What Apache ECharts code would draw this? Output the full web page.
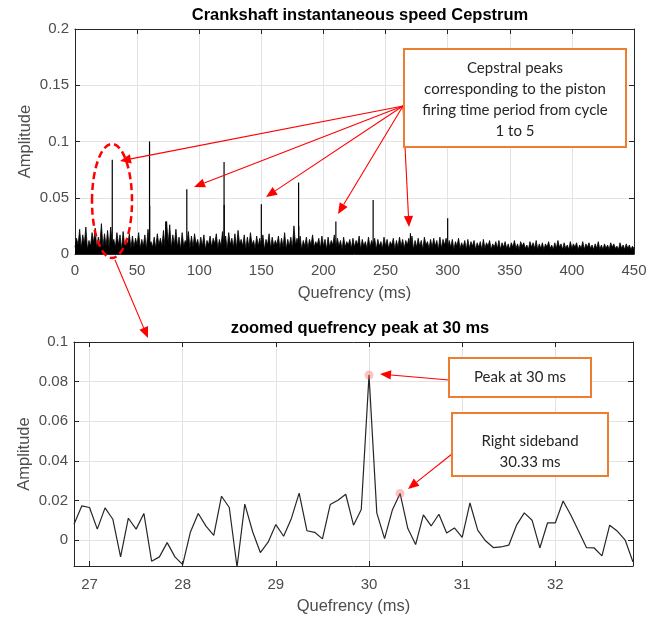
<!DOCTYPE html>
<html>
<head>
<meta charset="utf-8">
<script src="https://cdn.jsdelivr.net/npm/echarts@6/dist/echarts.min.js"></script>
<style>
html,body{margin:0;padding:0;background:#fff;}
#c{width:659px;height:617px;}
</style>
</head>
<body>
<div id="c"></div>
<script>
// ---------------- DATA ----------------
// Top chart: cepstrum noise, read as alternating floor / spike values (amplitude x 1e-3)
const noiseStepMs = 2.5;           // floor values at 0, 2.5, 5 ... ; spikes half a step later
const noiseFloor = [
  6,8,5,9,4,7,10,5,8,6,
  7,5,9,6,8,4,7,9,5,6,
  8,5,7,4,9,6,5,8,7,6,
  9,5,8,6,4,7,9,5,6,8,
  5,7,4,8,6,9,5,7,6,4,
  8,6,5,9,7,4,6,8,5,7,
  6,4,8,5,7,8,5,6,4,7,
  5,8,6,4,7,5,8,6,8,5,
  7,4,6,8,5,7,4,6,8,5,
  6,8,4,7,5,6,8,4,7,5,
  7,5,8,4,6,7,5,8,6,4,
  6,7,4,8,5,6,7,4,5,8,
  5,6,4,7,5,6,4,5,7,4,
  6,4,5,7,4,6,5,4,6,5,
  4,6,5,4,7,5,4,6,5,4,
  5,4,6,5,4,5,6,4,5,4,
  5,6,4,5,4,6,5,4,5,4,
  4,5,4,6,5,4,5,4,5,4,
  5
];
const noiseSpike = [
  14,22,17,24,12,19,23,15,27,18,
  21,24,13,19,17,20,12,18,16,14,
  19,13,17,22,11,15,18,14,21,29,
  26,17,22,15,19,12,20,16,18,13,
  15,17,12,16,14,18,13,20,16,19,
  14,18,21,13,17,15,19,12,16,14,
  17,13,18,15,12,16,14,19,13,15,
  25,14,16,12,15,13,17,11,14,16,
  13,15,12,17,14,12,15,11,13,14,
  12,16,13,11,15,12,14,13,11,15,
  13,11,14,12,15,13,12,14,16,12,
  14,12,15,11,13,14,12,15,13,14,
  12,13,11,14,10,12,13,11,12,10,
  11,13,10,12,9,11,12,10,11,9,
  10,12,9,11,10,8,11,10,12,9,
  10,9,11,8,10,12,9,10,8,11,
  9,10,8,11,9,10,8,9,11,8,
  9,8,10,9,7,10,8,9,8,7
];
// Cepstral peaks (quefrency ms, amplitude)
const peakQuefrency = [30, 60, 60.1, 73, 90, 120, 120.1, 150, 180, 180.1, 210, 240, 270, 300];
const peakAmplitude = [0.0837, 0.100, 0.043, 0.029, 0.0576, 0.0817, 0.0436, 0.0443, 0.0635, 0.025, 0.0288, 0.048, 0.0185, 0.0318];

// Bottom chart: zoom around 30 ms, sampled every 1/12 ms
const zoomStartMs = 26.8333;
const zoomSamplesPerMs = 12;
const zoomAmplitude = [
  0.0081, 0.0173, 0.0165, 0.0056, 0.0163, 0.0106, -0.0084, 0.0111, 0.0056, 0.0135,
  -0.0106, -0.0084, -0.0012, -0.0084, -0.0123, 0.0042, 0.0135, 0.0071, 0.0024, 0.0222,
  0.0165, -0.0135, 0.0182, 0.0044, -0.0062, -0.0010, 0.0079, 0.0020, 0.0110, 0.0238,
  0.0048, 0.0040, 0.0007, 0.0180, 0.0202, 0.0232, 0.0076, 0.0155, 0.0833, 0.0138,
  0.0008, 0.0152, 0.0236, 0.0059, -0.0022, 0.0128, 0.0072, 0.0131, 0.0037, 0.0062,
  0.0014, 0.0188, 0.0051, -0.0003, -0.0037, -0.0034, -0.0025, 0.0076, 0.0138, 0.0101,
  -0.0039, 0.0088, 0.0088, 0.0198, 0.0126, 0.0045, -0.0037, -0.0039, -0.0079, 0.0076,
  0.0045, 0.0000, -0.0110
];
const highlightQuefrency = [30, 30.333];
const highlightAmplitude = [0.0833, 0.0236];

const topXTicks = [0, 450, 50];
const topYTicks = [0, 0.2, 0.05];

// ---------------- BUILD ----------------
const noiseData = [];
for (let i = 0; i < noiseFloor.length; i++) {
  noiseData.push([i * noiseStepMs, noiseFloor[i] * 1e-3]);
  if (i < noiseSpike.length) noiseData.push([i * noiseStepMs + noiseStepMs / 2, noiseSpike[i] * 1e-3]);
}
const peakData = peakQuefrency.map((q, i) => [q, peakAmplitude[i]]);
const zoomData = zoomAmplitude.map((v, i) => [zoomStartMs + i / zoomSamplesPerMs, v]);
const zoomEnd = zoomStartMs + (zoomAmplitude.length - 1) / zoomSamplesPerMs;
const hiData = highlightQuefrency.map((q, i) => [q, highlightAmplitude[i]]);

const FONT = 'Liberation Sans';
const TXT = '#4d4d4d';
const AX = '#262626';
const GRID = '#e3e3e3';
const RED = '#ff0000';
const ORANGE = '#ed7d31';

function mainX(idx, extra) {
  return Object.assign({
    type: 'value', gridIndex: idx,
    axisLine: { show: true, onZero: false, lineStyle: { color: AX, width: 1 } },
    axisTick: { show: true, inside: true, length: 5, lineStyle: { color: AX } },
    axisLabel: { color: TXT, fontFamily: FONT, fontSize: 15, margin: 9 },
    splitLine: { show: true, lineStyle: { color: GRID, width: 1 } },
    name: 'Quefrency (ms)', nameLocation: 'middle', nameGap: 31,
    nameTextStyle: { color: TXT, fontFamily: FONT, fontSize: 16.5 }
  }, extra);
}
function mainY(idx, extra) {
  return Object.assign({
    type: 'value', gridIndex: idx,
    axisLine: { show: true, onZero: false, lineStyle: { color: AX, width: 1 } },
    axisTick: { show: true, inside: true, length: 5, lineStyle: { color: AX } },
    axisLabel: { color: TXT, fontFamily: FONT, fontSize: 15, margin: 6 },
    splitLine: { show: true, lineStyle: { color: GRID, width: 1 } },
    name: 'Amplitude', nameLocation: 'middle', nameRotate: 90, nameGap: 41, nameMoveOverlap: false,
    nameTextStyle: { color: TXT, fontFamily: FONT, fontSize: 16.5 }
  }, extra);
}
function boxX(idx, min, max, extra) {
  return Object.assign({
    type: 'value', gridIndex: idx, position: 'top', min: min, max: max,
    axisLine: { show: true, onZero: false, lineStyle: { color: AX, width: 1 } },
    axisTick: { show: true, inside: true, length: 5, lineStyle: { color: AX } },
    axisLabel: { show: false }, splitLine: { show: false }
  }, extra);
}
function boxY(idx, min, max, extra) {
  return Object.assign({
    type: 'value', gridIndex: idx, position: 'right', min: min, max: max,
    axisLine: { show: true, onZero: false, lineStyle: { color: AX, width: 1 } },
    axisTick: { show: true, inside: true, length: 5, lineStyle: { color: AX } },
    axisLabel: { show: false }, splitLine: { show: false }
  }, extra);
}
const intOnly = v => (Math.abs(v - Math.round(v)) < 1e-6 ? String(Math.round(v)) : '');
const yZoomFmt = v => {
  if (v < -1e-9) return '';
  return String(parseFloat(v.toFixed(3)));
};

// arrow helper for annotation graphics
function arrow(x1, y1, x2, y2, head) {
  head = head || 11;
  const a = Math.atan2(y2 - y1, x2 - x1);
  const w = head * 0.42;
  const bx = x2 - head * Math.cos(a), by = y2 - head * Math.sin(a);
  return [
    { type: 'line', shape: { x1: x1, y1: y1, x2: bx, y2: by }, style: { stroke: RED, lineWidth: 1.1 }, z: 100 },
    { type: 'polygon', shape: { points: [[x2, y2], [bx + w * Math.sin(a), by - w * Math.cos(a)], [bx - w * Math.sin(a), by + w * Math.cos(a)]] }, style: { fill: RED }, z: 100 }
  ];
}
function box(x, y, w, h, lines, cy, lh) {
  const els = [{ type: 'rect', shape: { x: x, y: y, width: w, height: h }, style: { fill: '#fff', stroke: ORANGE, lineWidth: 2 }, z: 110 }];
  lines.forEach((t, i) => els.push({
    type: 'text', x: x + w / 2, y: cy + i * lh, z: 111,
    style: { text: t, fill: '#262626', font: '15px Lato', align: 'center', verticalAlign: 'middle' }
  }));
  return els;
}

let graphics = [];
graphics.push({ type: 'ellipse', shape: { cx: 112, cy: 201, rx: 20, ry: 57 }, style: { fill: 'none', stroke: RED, lineWidth: 2.5, lineDash: [7, 4] }, z: 100 });
[[120, 161], [194, 187], [266, 197], [338, 214], [409, 227]].forEach(p => { graphics = graphics.concat(arrow(403, 106, p[0], p[1])); });
graphics = graphics.concat(arrow(115, 260, 148, 338));
graphics = graphics.concat(arrow(449, 380, 380, 374));
graphics = graphics.concat(arrow(452, 454, 408, 489));
graphics = graphics.concat(box(404, 49, 222, 98, ['Cepstral peaks', 'corresponding to the piston', 'firing time period from cycle', '1 to 5'], 68, 21));
graphics = graphics.concat(box(449, 358, 142, 39, ['Peak at 30 ms'], 377, 21));
graphics = graphics.concat(box(452, 413, 156, 63, ['Right sideband', '30.33 ms'], 441, 21));

const chart = echarts.init(document.getElementById('c'), null, { renderer: 'canvas' });
chart.setOption({
  animation: false,
  backgroundColor: '#fff',
  title: [
    { text: 'Crankshaft instantaneous speed Cepstrum', left: 355, top: 2, textAlign: 'center',
      textStyle: { fontFamily: FONT, fontWeight: 'bold', fontSize: 16.5, color: '#000' } },
    { text: 'zoomed quefrency peak at 30 ms', left: 355, top: 315, textAlign: 'center',
      textStyle: { fontFamily: FONT, fontWeight: 'bold', fontSize: 16.5, color: '#000' } }
  ],
  grid: [
    { left: 75, right: 25, top: 29, height: 225 },
    { left: 74, right: 26, top: 342, height: 224 }
  ],
  xAxis: [
    mainX(0, { min: topXTicks[0], max: topXTicks[1], interval: topXTicks[2] }),
    mainX(1, { min: zoomStartMs, max: zoomEnd, splitNumber: 6, nameGap: 32, axisLabel: { color: TXT, fontFamily: FONT, fontSize: 15, margin: 11, formatter: intOnly } }),
    boxX(0, topXTicks[0], topXTicks[1], { interval: topXTicks[2] }),
    boxX(1, zoomStartMs, zoomEnd, { splitNumber: 6 })
  ],
  yAxis: [
    mainY(0, { min: topYTicks[0], max: topYTicks[1], interval: topYTicks[2] }),
    mainY(1, { min: -0.013, max: 0.1, splitNumber: 5, axisLabel: { color: TXT, fontFamily: FONT, fontSize: 15, margin: 6, formatter: yZoomFmt } }),
    boxY(0, topYTicks[0], topYTicks[1], { interval: topYTicks[2] }),
    boxY(1, -0.013, 0.1, { splitNumber: 5 })
  ],
  series: [
    { type: 'line', xAxisIndex: 0, yAxisIndex: 0, data: noiseData, symbol: 'none', sampling: 'none',
      lineStyle: { color: '#000', width: 0.8 }, areaStyle: { color: '#000', opacity: 1 }, clip: true, silent: true },
    { type: 'bar', xAxisIndex: 0, yAxisIndex: 0, data: peakData, barWidth: 1.2,
      itemStyle: { color: '#000' }, silent: true },
    { type: 'line', xAxisIndex: 1, yAxisIndex: 1, data: zoomData, symbol: 'none',
      lineStyle: { color: '#262626', width: 1.2 }, clip: true, silent: true },
    { type: 'scatter', xAxisIndex: 1, yAxisIndex: 1, data: hiData, symbolSize: 9,
      itemStyle: { color: 'rgba(245,90,90,0.45)' }, silent: true, z: 5 }
  ],
  graphic: graphics
});
</script>
</body>
</html>
